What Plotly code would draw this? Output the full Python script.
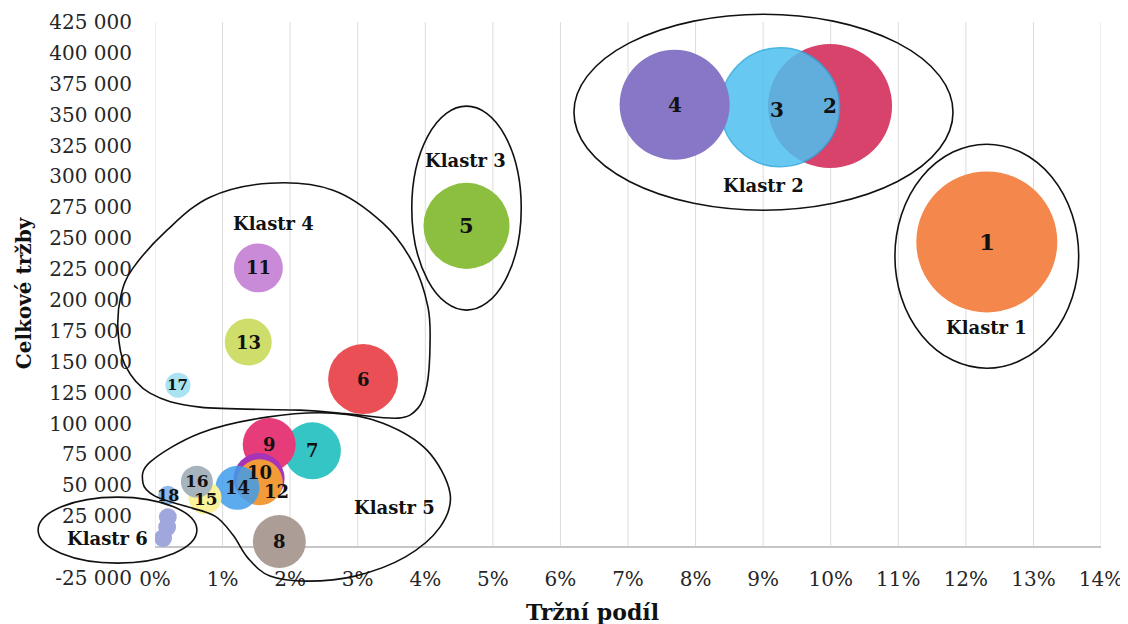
import numpy as np
import plotly.graph_objects as go

# ---------------- data ----------------
companies = ["1", "2", "3", "4", "5", "6", "7", "8", "9", "10", "11", "12",
             "13", "14", "15", "16", "17", "18", "", "", ""]
market_share = [0.1231, 0.0999, 0.0925, 0.0769, 0.0461, 0.0308, 0.0233, 0.0184,
                0.0169, 0.0154, 0.0153, 0.0155, 0.0138, 0.0122, 0.0074, 0.0062,
                0.0034, 0.0019, 0.0019, 0.0018, 0.0012]
total_sales = [247000, 357000, 356000, 358000, 260000, 136000, 78000, 4500,
               83000, 55500, 226000, 52500, 166000, 48000, 40000, 53000,
               131000, 42000, 24300, 16200, 7300]
bubble_value = [1988, 1538, 1416, 1210, 740, 490, 325, 281, 281, 260, 240, 212,
                221, 194, 109, 102, 63, 36, 32, 32, 32]

x_ticks = [0.00, 0.01, 0.02, 0.03, 0.04, 0.05, 0.06, 0.07, 0.08, 0.09, 0.10,
           0.11, 0.12, 0.13, 0.14]
y_tick_values = [-25000, 25000, 50000, 75000, 100000, 125000, 150000, 175000,
                 200000, 225000, 250000, 275000, 300000, 325000, 350000,
                 375000, 400000, 425000]
y_tick_labels = ["-25 000", "25 000", "50 000", "75 000", "100 000", "125 000",
                 "150 000", "175 000", "200 000", "225 000", "250 000",
                 "275 000", "300 000", "325 000", "350 000", "375 000",
                 "400 000", "425 000"]

cluster_names = ["Klastr 1", "Klastr 2", "Klastr 3", "Klastr 4", "Klastr 5", "Klastr 6"]
cluster_label_x = [0.1231, 0.0901, 0.0459, 0.0176, 0.0355, -0.0071]
cluster_label_y = [178000, 293000, 313000, 262000, 32400, 7300]

# ---------------- styles ----------------
X_RANGE = [0, 0.14]
Y_RANGE = [-25000, 425000]
FONT = "DejaVu Serif"

colors = ["#F4874B", "#D7436B", "#4DC0F0", "#8777C6", "#8CBF3F", "#E94F55",
          "#36C5C5", "#AD9D97", "#E63C7A", "#A534B8", "#C98AD8", "#F29B38",
          "#CFDE6A", "#3F9CEB", "#FBF39A", "#A8B4BD", "#A9E3F1", "#8FB8E8",
          "#9FA7DC", "#9FA7DC", "#9FA7DC"]
opacity = [1] * len(companies)
opacity[2] = 0.85
opacity[13] = 0.85
line_w = [0] * len(companies)
line_w[2] = 1.5
line_c = ["#2AA8DC"] * len(companies)

label_size = {"1": 23, "2": 20, "3": 20, "4": 20, "5": 21, "15": 17, "16": 17,
              "17": 15, "18": 16}
label_shift = {"3": (-3, -3), "10": (0, 6), "12": (17, -9), "15": (1, -1), "16": (0, 1)}

diam = list(np.sqrt(np.array(bubble_value) * 10.0))

def fx(x):
    return (x - X_RANGE[0]) / (X_RANGE[1] - X_RANGE[0])

def fy(y):
    return (y - Y_RANGE[0]) / (Y_RANGE[1] - Y_RANGE[0])

# cluster outlines, in data units
ellipses = [  # x0, x1, y0, y1
    (0.1095, 0.1367, 144800, 326100),   # Klastr 1
    (0.0620, 0.1181, 272700, 431300),   # Klastr 2
    (0.0380, 0.0542, 191800, 356900),   # Klastr 3
    (-0.0173, 0.0062, -12950, 40460),   # Klastr 6
]
blob4 = [(0.01702, 294550), (0.02634, 288880), (0.03374, 262180), (0.03818, 229810),
         (0.04040, 194210), (0.04070, 163460), (0.04025, 131090), (0.03892, 112480),
         (0.03596, 104390), (0.02886, 107620), (0.02146, 110860), (0.00666, 113290),
         (-0.00074, 124620), (-0.00444, 147270), (-0.00548, 175600), (-0.00503, 203920),
         (-0.00326, 225770), (0.00178, 256520), (0.00814, 283220)]
blob5 = [(-0.00178, 51790), (-0.00074, 68780), (0.00666, 92250), (0.01658, 105200),
         (0.02634, 108430), (0.03374, 100340), (0.04025, 78490), (0.04366, 43700),
         (0.04218, 16180), (0.03700, -8090), (0.02960, -23470), (0.02250, -27510),
         (0.01702, -23470), (0.01376, -8900), (0.01154, 9710), (0.00888, 25090),
         (0.00444, 33180), (0.0, 41270)]

def smooth_path(pts):
    p = np.array([(fx(x), fy(y)) for x, y in pts])
    n = len(p)
    s = "M {:.5f},{:.5f}".format(*p[0])
    for i in range(n):
        p0, p1, p2, p3 = p[i - 1], p[i], p[(i + 1) % n], p[(i + 2) % n]
        c1 = p1 + (p2 - p0) / 6.0
        c2 = p2 - (p3 - p1) / 6.0
        s += " C {:.5f},{:.5f} {:.5f},{:.5f} {:.5f},{:.5f}".format(*c1, *c2, *p2)
    return s + " Z"

fig = go.Figure()
fig.add_trace(go.Scatter(
    x=market_share, y=total_sales, mode="markers", hoverinfo="skip",
    marker=dict(size=diam, sizemode="diameter", color=colors, opacity=opacity,
                line=dict(width=line_w, color=line_c)),
))

shapes = []
for v in x_ticks:
    shapes.append(dict(type="line", xref="x", yref="y", x0=v, x1=v, y0=0, y1=Y_RANGE[1],
                       line=dict(color="#DCDCDC", width=1), layer="below"))
for x0, x1, y0, y1 in ellipses:
    shapes.append(dict(type="circle", xref="paper", yref="paper",
                       x0=fx(x0), x1=fx(x1), y0=fy(y0), y1=fy(y1),
                       line=dict(color="#111111", width=1.6), layer="above"))
for blob in (blob4, blob5):
    shapes.append(dict(type="path", xref="paper", yref="paper", path=smooth_path(blob),
                       line=dict(color="#111111", width=1.6), layer="above"))

annotations = []
for name, x, y in zip(companies, market_share, total_sales):
    if not name:
        continue
    dx, dy = label_shift.get(name, (0, 0))
    annotations.append(dict(x=x, y=y, xref="x", yref="y", text=name, showarrow=False,
                            xshift=dx, yshift=dy,
                            font=dict(family=FONT, size=label_size.get(name, 18),
                                      color="#111111", weight="bold")))
for name, x, y in zip(cluster_names, cluster_label_x, cluster_label_y):
    annotations.append(dict(x=fx(x), y=fy(y), xref="paper", yref="paper", text=name,
                            showarrow=False, xanchor="center", yanchor="middle",
                            font=dict(family=FONT, size=18, color="#111111", weight="bold")))
annotations.append(dict(x=-0.1385, y=0.514, xref="paper", yref="paper", text="Celkové tržby",
                        textangle=-90, showarrow=False, xanchor="center", yanchor="middle",
                        font=dict(family=FONT, size=20, color="#111111", weight="bold")))
annotations.append(dict(x=0.462, y=-0.061, xref="paper", yref="paper", text="Tržní podíl",
                        showarrow=False, xanchor="center", yanchor="middle",
                        font=dict(family=FONT, size=22, color="#111111", weight="bold")))

# page body has an 8px margin, so the figure is sized 8px smaller on each axis
fig.update_layout(
    width=1120, height=616,
    margin=dict(l=147, r=27, t=14, b=46),
    paper_bgcolor="white", plot_bgcolor="white",
    font=dict(family=FONT, size=20, color="#262626"),
    showlegend=False,
    shapes=shapes, annotations=annotations,
)
fig.update_xaxes(range=X_RANGE, tickvals=x_ticks, tickformat=".0%", showgrid=False,
                 zeroline=False, showline=False, ticks="", ticklabelstandoff=-13,
                 automargin=False)
fig.update_yaxes(range=Y_RANGE, tickvals=y_tick_values, ticktext=y_tick_labels,
                 showgrid=False, zeroline=True, zerolinecolor="#C6C6C6", zerolinewidth=2,
                 showline=False, ticks="", ticklabelstandoff=22, automargin=False)

fig.write_html("out.html")
